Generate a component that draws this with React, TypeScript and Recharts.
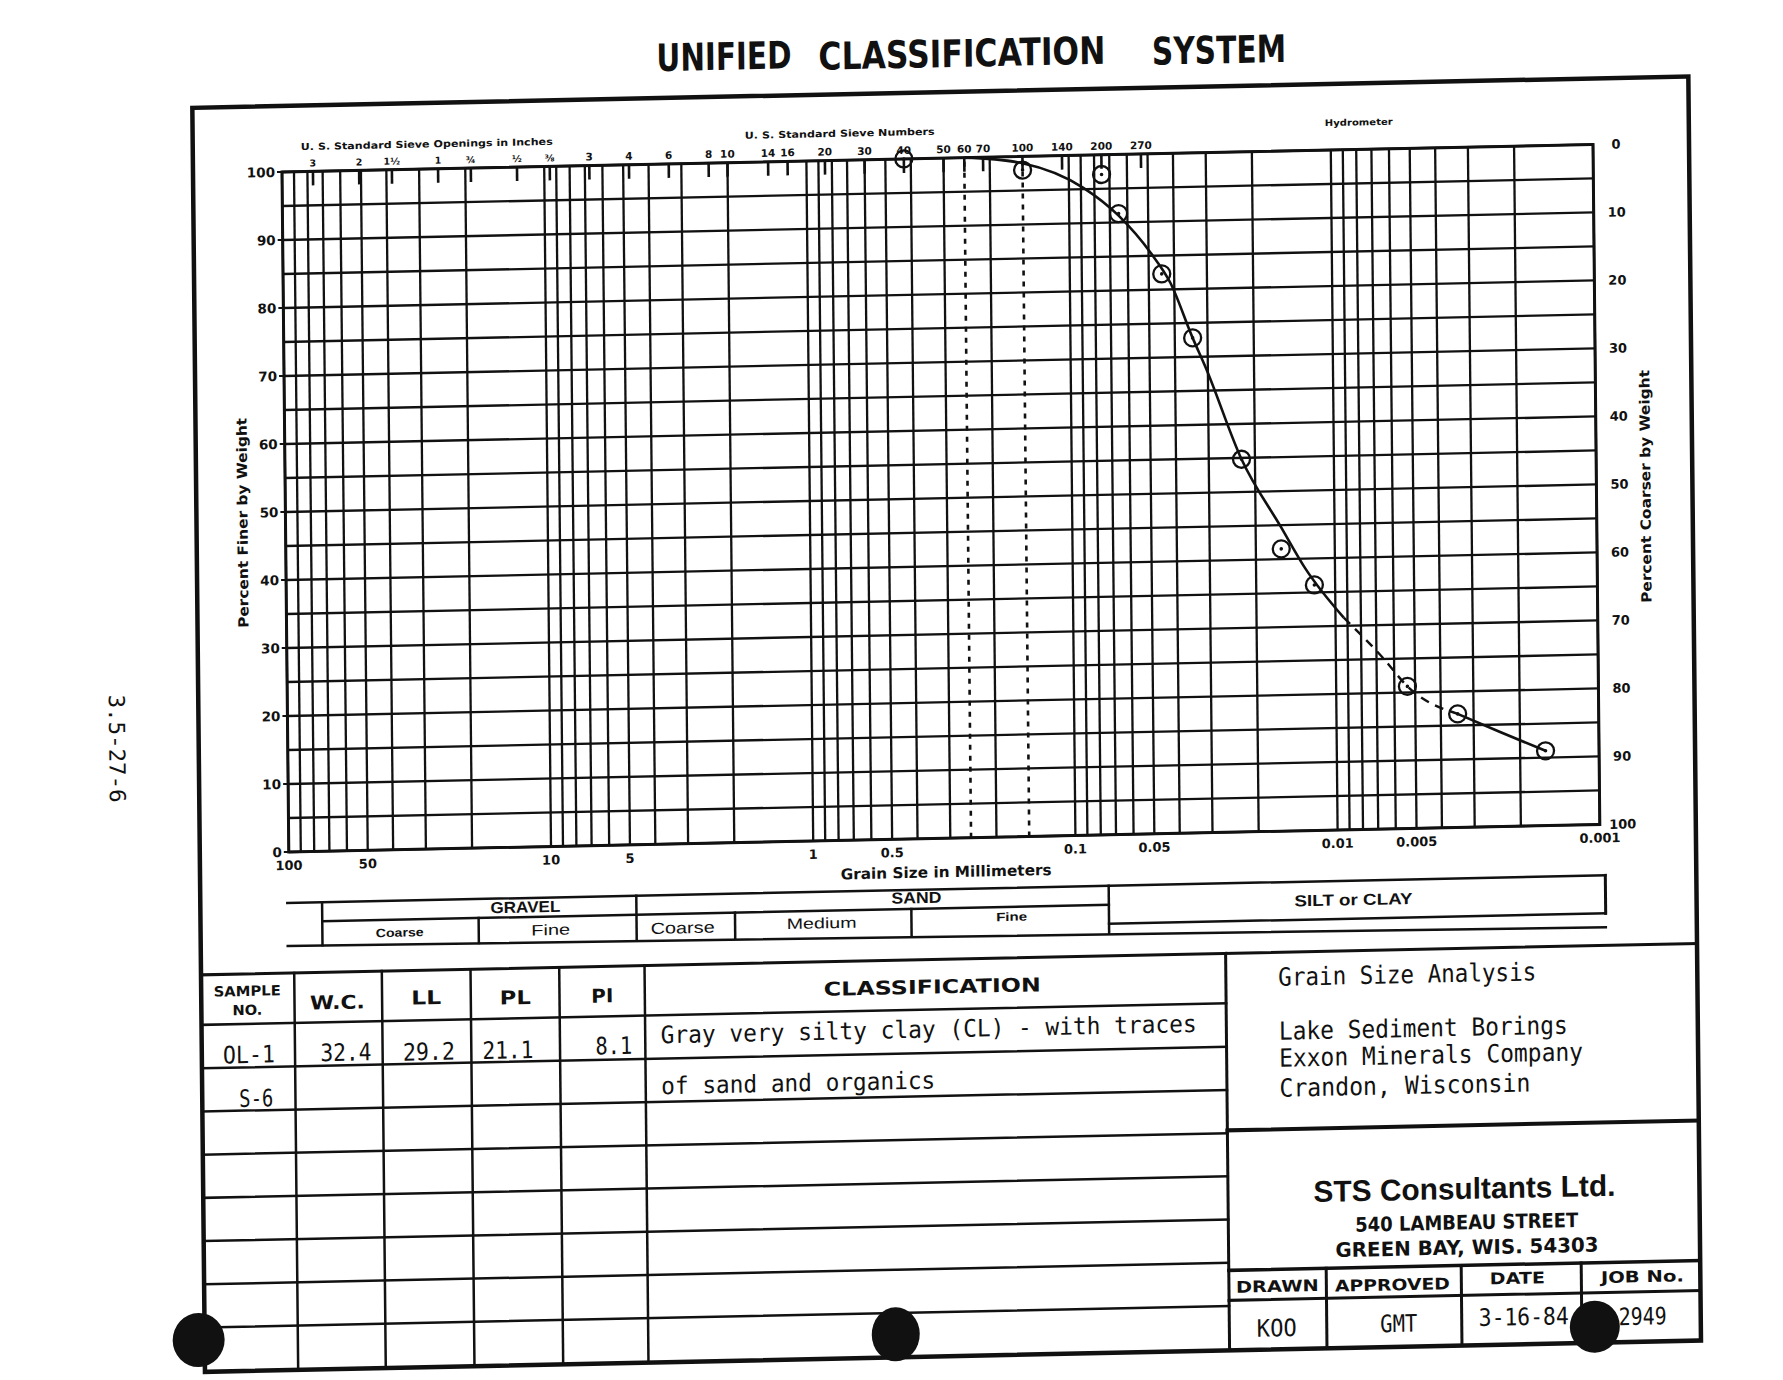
import React from 'react';
import { ComposedChart, XAxis, YAxis, CartesianGrid, Line, Scatter, ReferenceLine } from 'recharts';

// ---------------- data ----------------
const sampleSizesMm = [0.425, 0.15, 0.075, 0.0648, 0.0446, 0.0342, 0.0225, 0.016, 0.012, 0.00535, 0.00345, 0.0016];
const samplePercentFiner = [100, 98.0, 97.1, 91.3, 82.3, 72.8, 54.8, 41.5, 36.1, 20.9, 16.7, 11.0];

const curveSolidSizes = [0.25, 0.15, 0.0881, 0.0648, 0.049, 0.0413, 0.0342, 0.0305, 0.0225, 0.016, 0.013, 0.0093];
const curveSolidPercents = [100, 99.0, 95.2, 91.0, 85.4, 80.9, 72.8, 68.3, 54.8, 44.7, 38.6, 31.2];
const curveDashedSizes = [0.0093, 0.00656, 0.00535, 0.00345];
const curveDashedPercents = [31.2, 25.0, 20.9, 16.7];
const curveTailSizes = [0.00345, 0.00238, 0.0016];
const curveTailPercents = [16.7, 13.9, 11.0];

const gridSizesMm = [
  100, 90, 80, 70, 60, 50, 40, 30, 20,
  10, 9, 8, 7, 6, 5, 4, 3, 2,
  1, 0.9, 0.8, 0.7, 0.6, 0.5, 0.4, 0.3, 0.2,
  0.1, 0.09, 0.08, 0.07, 0.06, 0.05, 0.04, 0.03, 0.02,
  0.01, 0.009, 0.008, 0.007, 0.006, 0.005, 0.004, 0.003, 0.002,
  0.001,
];
const labelledSizesMm = [100, 50, 10, 5, 1, 0.5, 0.1, 0.05, 0.01, 0.005, 0.001];
const percentGridTicks = [0, 5, 10, 15, 20, 25, 30, 35, 40, 45, 50, 55, 60, 65, 70, 75, 80, 85, 90, 95, 100];
const percentLabelTicks = [0, 10, 20, 30, 40, 50, 60, 70, 80, 90, 100];

const sieveSizesMm = [76.2, 50.8, 38.1, 25.4, 19.05, 12.7, 9.525, 6.73, 4.75, 3.35, 2.36, 2.0, 1.4, 1.18, 0.85, 0.6, 0.425, 0.3, 0.25, 0.212, 0.15, 0.106, 0.075, 0.053];
const sieveLabels = ['3', '2', '1½', '1', '¾', '½', '⅜', '3', '4', '6', '8', '10', '14', '16', '20', '30', '40', '50', '60', '70', '100', '140', '200', '270'];
const dottedSieveSizesMm = [0.25, 0.15];

const soilLimitsMm = [75, 19, 4.75, 2.0, 0.425, 0.075];

const samplePoints = sampleSizesMm.map((d, i) => ({ d, p: samplePercentFiner[i] }));
const curveSolid = curveSolidSizes.map((d, i) => ({ d, p: curveSolidPercents[i] }));
const curveDashed = curveDashedSizes.map((d, i) => ({ d, p: curveDashedPercents[i] }));
const curveTail = curveTailSizes.map((d, i) => ({ d, p: curveTailPercents[i] }));

// ---------------- layout ----------------
const OX = 282, OY = 172;           // plot top-left on the page
const PW = 1311, PH = 680;          // plot size
const AXL = 100, AXR = 100, AXT = 80, AXB = 50;
const CW = AXL + PW + AXR, CH = AXT + PH + AXB;
const PLOT_LEFT = AXL, PLOT_TOP = AXT, PLOT_RIGHT = AXL + PW, PLOT_BOTTOM = AXT + PH;

const INK = '#111';
const SANS = "'DejaVu Sans', 'Liberation Sans', sans-serif";
const ARIAL = "'Liberation Sans', Arial, sans-serif";
const MONO = "'DejaVu Sans Mono', 'Liberation Mono', monospace";

// mirrors the chart's log axis, for the soil-class strip drawn below the plot
const xs = (d: number) => (PW * (2 - Math.log10(d))) / 5;

const renderBottomTick = (props: any) => {
  const { x, payload } = props;
  if (!labelledSizesMm.includes(payload.value)) return <g />;
  return (
    <text x={x} y={PLOT_BOTTOM + 18} textAnchor="middle" fontFamily={SANS} fontWeight={700} fontSize={13} fill={INK}>
      {String(payload.value)}
    </text>
  );
};

const renderTopTick = (props: any) => {
  const { x, payload } = props;
  const i = sieveSizesMm.indexOf(payload.value);
  const small = i >= 0 && i < 7;
  return (
    <g>
      <line x1={x} x2={x} y1={PLOT_TOP} y2={PLOT_TOP + 14} stroke={INK} strokeWidth={2.6} />
      <text x={x} y={PLOT_TOP - 5} textAnchor="middle" fontFamily={SANS} fontWeight={700} fontSize={small ? 9.5 : 10.5} fill={INK}>
        {i >= 0 ? sieveLabels[i] : ''}
      </text>
    </g>
  );
};

const renderLeftTick = (props: any) => {
  const { y, payload } = props;
  if (payload.value % 10 !== 0) return <g />;
  return (
    <g>
      <line x1={PLOT_LEFT - 5} x2={PLOT_LEFT} y1={y} y2={y} stroke={INK} strokeWidth={2} />
      <text x={PLOT_LEFT - 7} y={y} dy="0.36em" textAnchor="end" fontFamily={SANS} fontWeight={700} fontSize={13.5} fill={INK}>
        {payload.value}
      </text>
    </g>
  );
};

const renderRightTick = (props: any) => {
  const { y, payload } = props;
  return (
    <text x={PLOT_RIGHT + 23} y={y} dy="0.36em" textAnchor="middle" fontFamily={SANS} fontWeight={700} fontSize={13} fill={INK}>
      {payload.value}
    </text>
  );
};

const renderPoint = (props: any) => {
  const { cx, cy } = props;
  return (
    <g>
      <circle cx={cx} cy={cy} r={8.5} fill="none" stroke={INK} strokeWidth={2.3} />
      <circle cx={cx} cy={cy} r={1.8} fill={INK} />
    </g>
  );
};

type TP = {
  x: number; y: number; w?: number; size: number; family?: string; weight?: number;
  anchor?: 'start' | 'middle' | 'end'; rot?: number; children: React.ReactNode;
};
const T = ({ x, y, w, size, family = ARIAL, weight = 400, anchor = 'middle', rot, children }: TP) => (
  <text
    x={x}
    y={y}
    fontSize={size}
    fontFamily={family}
    fontWeight={weight}
    textAnchor={anchor}
    dominantBaseline="central"
    fill={INK}
    textLength={w}
    lengthAdjust={w ? 'spacingAndGlyphs' : undefined}
    transform={rot ? `rotate(${rot} ${x} ${y})` : undefined}
  >
    {children}
  </text>
);

const L = ({ x1, y1, x2, y2, w = 2.5 }: { x1: number; y1: number; x2: number; y2: number; w?: number }) => (
  <line x1={x1} y1={y1} x2={x2} y2={y2} stroke={INK} strokeWidth={w} strokeLinecap="square" />
);

const tableRowsY = [851, 894.4, 937.6, 980.8, 1024, 1067.2, 1110.4, 1153.6];
const tableColsX = [4.2, 91.8, 180.5, 269.2, 354.5];

const Overlay = () => {
  const [g75, g19, s475, s2, s0425, s0075] = soilLimitsMm.map(xs);
  return (
    <svg width={1783} height={1380} style={{ position: 'absolute', left: 0, top: 0, overflow: 'visible', pointerEvents: 'none' }}>
      <g transform={`translate(${OX} ${OY})`}>
        {/* title */}
        <T x={443} y={-106} w={135} size={38} family={SANS} weight={700}>UNIFIED</T>
        <T x={681} y={-104} w={287} size={38} family={SANS} weight={700}>CLASSIFICATION</T>
        <T x={938} y={-102} w={134} size={38} family={SANS} weight={700}>SYSTEM</T>

        {/* margin note */}
        <T x={-171} y={573} w={108} size={22} family={MONO} rot={90}>3.5-27-6</T>

        {/* outer frame */}
        <rect x={-89} y={-66} width={1496} height={1264} fill="none" stroke={INK} strokeWidth={4.5} />

        {/* plot border */}
        <rect x={0} y={0} width={PW} height={PH} fill="none" stroke={INK} strokeWidth={3} />

        {/* axis headers */}
        <T x={145} y={-25} w={252} size={9.5} family={SANS} weight={700}>U. S. Standard Sieve Openings in Inches</T>
        <T x={558} y={-27} w={190} size={9.5} family={SANS} weight={700}>U. S. Standard Sieve Numbers</T>
        <T x={1077} y={-27} w={68} size={9} family={SANS} weight={700}>Hydrometer</T>
        <T x={657} y={714} w={211} size={15} family={SANS} weight={700}>Grain Size in Millimeters</T>
        <T x={-43} y={350} w={210} size={14} family={SANS} weight={700} rot={-90}>Percent Finer by Weight</T>
        <T x={1360} y={343} w={233} size={14} family={SANS} weight={700} rot={-90}>Percent Coarser by Weight</T>

        {/* soil class strip */}
        <L x1={-2} y1={731} x2={1316} y2={731} />
        <L x1={g75} y1={750} x2={s0075} y2={750} />
        <L x1={-2} y1={774} x2={1316} y2={783} />
        <L x1={s0075} y1={769} x2={1316} y2={769} />
        <L x1={1316} y1={731} x2={1316} y2={769} w={3} />
        <L x1={g75} y1={731} x2={g75} y2={774} />
        <L x1={s475} y1={731} x2={s475} y2={775} />
        <L x1={s0075} y1={731} x2={s0075} y2={778} />
        <L x1={g19} y1={750} x2={g19} y2={775} />
        <L x1={s2} y1={750} x2={s2} y2={776} />
        <L x1={s0425} y1={750} x2={s0425} y2={777} />
        <T x={236} y={740} w={70} size={16} weight={700}>GRAVEL</T>
        <T x={627} y={739} w={50} size={16} weight={700}>SAND</T>
        <T x={110} y={763} w={48} size={12} weight={700}>Coarse</T>
        <T x={261} y={763} w={39} size={15}>Fine</T>
        <T x={393} y={764} w={64} size={16}>Coarse</T>
        <T x={532} y={762} w={70} size={15}>Medium</T>
        <T x={722} y={760} w={31} size={12} weight={700}>Fine</T>
        <T x={1064} y={750} w={118} size={16} weight={700}>SILT or CLAY</T>

        {/* lower table */}
        <L x1={-89} y1={801} x2={1407} y2={801} w={3} />
        {tableRowsY.map((y) => (
          <L key={y} x1={-89} y1={y} x2={935.6} y2={y} />
        ))}
        {tableColsX.map((x) => (
          <L key={x} x1={x} y1={801} x2={x} y2={1198} />
        ))}
        <L x1={935.6} y1={801} x2={935.6} y2={1198} w={3} />
        <T x={-43} y={818} w={67} size={14} family={SANS} weight={700}>SAMPLE</T>
        <T x={-43} y={837} w={30} size={14} family={SANS} weight={700}>NO.</T>
        <T x={47} y={831} w={55} size={19} family={SANS} weight={700}>W.C.</T>
        <T x={136} y={828} w={30} size={19} family={SANS} weight={700}>LL</T>
        <T x={225} y={830} w={31} size={19} family={SANS} weight={700}>PL</T>
        <T x={312} y={830} w={22} size={19} family={SANS} weight={700}>PI</T>
        <T x={642} y={828} w={217} size={19} family={SANS} weight={700}>CLASSIFICATION</T>

        <T x={-42} y={882} w={52} size={24} family={MONO}>OL-1</T>
        <T x={55} y={882} w={51} size={24} family={MONO}>32.4</T>
        <T x={138} y={883} w={52} size={24} family={MONO}>29.2</T>
        <T x={217} y={883} w={51} size={24} family={MONO}>21.1</T>
        <T x={323} y={881} w={37} size={24} family={MONO}>8.1</T>
        <T x={370} y={871} w={536} size={24} family={MONO} anchor="start">Gray very silty clay (CL) - with traces</T>
        <T x={-35} y={926} w={34} size={24} family={MONO}>S-6</T>
        <T x={370} y={922} w={274} size={24} family={MONO} anchor="start">of sand and organics</T>

        {/* title block */}
        <T x={988} y={826} w={258} size={25} family={MONO} anchor="start">Grain Size Analysis</T>
        <T x={988} y={880} w={289} size={25} family={MONO} anchor="start">Lake Sediment Borings</T>
        <T x={988} y={907} w={304} size={25} family={MONO} anchor="start">Exxon Minerals Company</T>
        <T x={988} y={937} w={251} size={25} family={MONO} anchor="start">Crandon, Wisconsin</T>
        <L x1={935.6} y1={978} x2={1407} y2={978} w={4} />

        <T x={1172} y={1041} w={302} size={30} weight={700}>STS Consultants Ltd.</T>
        <T x={1174} y={1075} w={223} size={20} family={SANS} weight={700}>540 LAMBEAU STREET</T>
        <T x={1174} y={1100} w={263} size={20} family={SANS} weight={700}>GREEN BAY, WIS. 54303</T>

        <L x1={935.6} y1={1118} x2={1407} y2={1118} w={3.5} />
        <L x1={935.6} y1={1148} x2={1407} y2={1148} w={3} />
        <L x1={1033} y1={1118} x2={1033} y2={1198} w={3} />
        <L x1={1168} y1={1118} x2={1168} y2={1198} w={3} />
        <L x1={1288} y1={1118} x2={1288} y2={1198} w={3} />
        <T x={984} y={1135} w={83} size={16} family={SANS} weight={700}>DRAWN</T>
        <T x={1099} y={1136} w={115} size={16} family={SANS} weight={700}>APPROVED</T>
        <T x={1224} y={1132} w={55} size={16} family={SANS} weight={700}>DATE</T>
        <T x={1349} y={1133} w={83} size={16} family={SANS} weight={700}>JOB No.</T>
        <T x={983} y={1177} w={40} size={24} family={MONO}>KOO</T>
        <T x={1105} y={1175} w={37} size={24} family={MONO}>GMT</T>
        <T x={1230} y={1171} w={90} size={24} family={MONO}>3-16-84</T>
        <T x={1349} y={1173} w={48} size={24} family={MONO}>2949</T>

        {/* punch holes */}
        <ellipse cx={-95} cy={1166} rx={26} ry={27} fill={INK} />
        <ellipse cx={602} cy={1175} rx={24} ry={27} fill={INK} />
        <ellipse cx={1301} cy={1182} rx={25} ry={26} fill={INK} />
      </g>
    </svg>
  );
};

export default function App() {
  return (
    <div
      style={{
        position: 'absolute',
        left: 0,
        top: 0,
        width: 1783,
        height: 1380,
        background: '#fff',
        transform: 'matrix(1, -0.021, 0.01, 1, 0, 0)',
        transformOrigin: `${OX}px ${OY}px`,
      }}
    >
      <div style={{ position: 'absolute', left: OX - AXL, top: OY - AXT }}>
        <ComposedChart width={CW} height={CH} margin={{ top: 0, right: 0, bottom: 0, left: 0 }}>
          <CartesianGrid stroke={INK} strokeWidth={2.3} />
          <XAxis
            dataKey="d"
            type="number"
            scale="log"
            domain={[0.001, 100]}
            reversed
            ticks={gridSizesMm}
            interval={0}
            tick={renderBottomTick}
            tickLine={false}
            axisLine={false}
            height={AXB}
          />
          <XAxis
            xAxisId="top"
            dataKey="d"
            orientation="top"
            type="number"
            scale="log"
            domain={[0.001, 100]}
            reversed
            ticks={sieveSizesMm}
            interval={0}
            tick={renderTopTick}
            tickLine={false}
            axisLine={false}
            height={AXT}
          />
          <YAxis
            dataKey="p"
            type="number"
            domain={[0, 100]}
            ticks={percentGridTicks}
            interval={0}
            tick={renderLeftTick}
            tickLine={false}
            axisLine={false}
            width={AXL}
          />
          <YAxis
            yAxisId="right"
            orientation="right"
            type="number"
            domain={[0, 100]}
            reversed
            allowDataOverflow
            ticks={percentLabelTicks}
            interval={0}
            tick={renderRightTick}
            tickLine={false}
            axisLine={false}
            width={AXR}
          />
          {dottedSieveSizesMm.map((d) => (
            <ReferenceLine key={d} x={d} stroke={INK} strokeWidth={2.6} strokeDasharray="5 6" />
          ))}
          <Line data={curveSolid} dataKey="p" type="monotone" stroke={INK} strokeWidth={2.6} dot={false} activeDot={false} isAnimationActive={false} />
          <Line data={curveDashed} dataKey="p" type="monotone" stroke={INK} strokeWidth={2.4} strokeDasharray="9 7" dot={false} activeDot={false} isAnimationActive={false} />
          <Line data={curveTail} dataKey="p" type="monotone" stroke={INK} strokeWidth={2.6} dot={false} activeDot={false} isAnimationActive={false} />
          <Scatter xAxisId="top" data={samplePoints} dataKey="p" shape={renderPoint} isAnimationActive={false} />
        </ComposedChart>
      </div>
      <Overlay />
    </div>
  );
}
